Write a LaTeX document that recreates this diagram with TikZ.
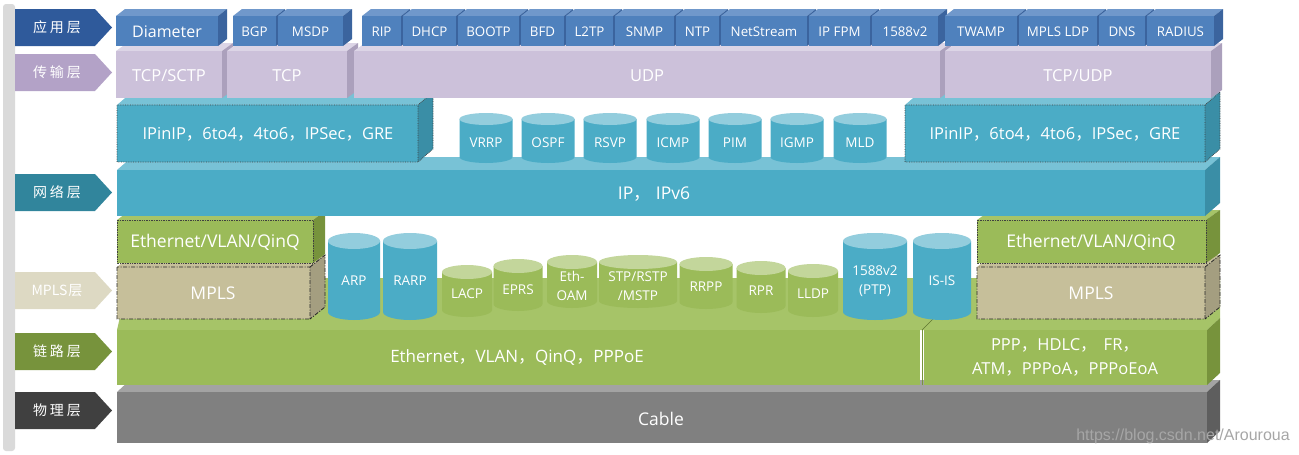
\documentclass[tikz,border=0pt]{standalone}
\usepackage{fontspec}
\setmainfont{Open Sans}
\newfontfamily\cjk{Noto Sans CJK SC}
\newfontfamily\wmfont{Liberation Sans}
\definecolor{appF}{HTML}{4F81BD}
\definecolor{appT}{HTML}{7098CB}
\definecolor{appS}{HTML}{3B649E}
\definecolor{trF}{HTML}{CCC1DA}
\definecolor{trT}{HTML}{DCD5E6}
\definecolor{trS}{HTML}{ABA0BC}
\definecolor{tlF}{HTML}{4BACC6}
\definecolor{tlT}{HTML}{78C2D6}
\definecolor{tlS}{HTML}{3A8EA6}
\definecolor{tlC}{HTML}{93CDDD}
\definecolor{grF}{HTML}{9BBB59}
\definecolor{grT}{HTML}{A6C468}
\definecolor{grS}{HTML}{77933C}
\definecolor{grC}{HTML}{C3D69B}
\definecolor{mpF}{HTML}{C6BF9A}
\definecolor{mpS}{HTML}{A49E80}
\definecolor{gyF}{HTML}{808080}
\definecolor{gyT}{HTML}{A3A3A3}
\definecolor{gyS}{HTML}{5E5E5E}
\definecolor{labApp}{HTML}{2F5A9B}
\definecolor{labTr}{HTML}{B3A2C7}
\definecolor{labNet}{HTML}{31859C}
\definecolor{labMp}{HTML}{DDD9C3}
\definecolor{labLk}{HTML}{77933C}
\definecolor{labPh}{HTML}{404040}
\definecolor{barc}{HTML}{DADADA}
% 3D box: x1 y1 x2 y2 dx dy front top side
\newcommand\tdb[9]{%
  \fill[#8] (#1,#2) -- ({#1+#5},{#2-#6}) -- ({#3+#5},{#2-#6}) -- (#3,#2) -- cycle;
  \fill[#9] (#3,#2) -- ({#3+#5},{#2-#6}) -- ({#3+#5},{#4-#6}) -- (#3,#4) -- cycle;
  \fill[#7] (#1,#2) rectangle (#3,#4);}
\newcommand\appbox[4]{\tdb{#2}{16}{#3}{46}{9}{7}{appF}{appT}{appS}%
  \node[apptxt] (#1) at ({(#2+#3)/2},32) {#4};}
\newcommand\trbox[4]{\tdb{#2}{51}{#3}{98}{11}{8}{trF}{trT}{trS}%
  \node[bigtxt] (#1) at ({(#2+#3)/2},76) {#4};}
% cylinder: name cx ytop ybot rx body top labely text ; ry from \cry
\newcommand\cyl[9]{%
  \fill[#6] ({#2-#5},#3) -- ({#2-#5},#4) arc[start angle=180,end angle=0,x radius=#5,y radius=\cry] -- ({#2+#5},#3) -- cycle;
  \fill[#7] (#2,#3) ellipse[x radius=#5, y radius=\cry];
  \node[cyltxt] (#1) at (#2,#8) {#9};}
\newcommand\tag[4]{% name y1 y2 color
  \fill[#4] (15,#2) -- (95,#2) -- (112,{(#2+#3)/2}) -- (95,#3) -- (15,#3) -- cycle;}
\newcommand\fc{{\cjk ，}}
\def\cry{6}
\begin{document}
\begin{tikzpicture}[x=1pt,y=-1pt,
  apptxt/.style={text=white,font=\fontsize{13.3}{15}\selectfont,inner sep=0pt},
  bigtxt/.style={text=white,font=\fontsize{16.5}{18}\selectfont,inner sep=0pt,align=center},
  lgtxt/.style={text=white,font=\fontsize{17.5}{20}\selectfont,inner sep=0pt,align=center},
  cyltxt/.style={text=white,font=\fontsize{13.5}{19.5}\selectfont,inner sep=0pt,align=center},
  tagtxt/.style={text=white,font=\cjk\fontsize{14}{16}\selectfont,inner sep=0pt},
  dotb/.style={draw=black!75,densely dotted,line width=0.7pt},
  dashdotb/.style={draw=black!85,dash pattern=on 4pt off 1.5pt on 1pt off 1.5pt,line width=0.8pt}]
\useasboundingbox (0,0) rectangle (1299,455);
% left bar
\fill[barc,rounded corners=3pt] (3,4) rectangle (15,451);
% layer tags
\tag{t1}{9}{46}{labApp}
\node[tagtxt] (tapp) at (57,27.5) {应\hspace{3pt}用\hspace{3pt}层};
\tag{t2}{54}{91}{labTr}
\node[tagtxt] (ttr) at (57,72.5) {传\hspace{3pt}输\hspace{3pt}层};
\tag{t3}{174}{211}{labNet}
\node[tagtxt] (tnet) at (57,192.5) {网\hspace{3pt}络\hspace{3pt}层};
\tag{t4}{272}{309}{labMp}
\node[tagtxt] (tmp) at (57,290.5) {\itshape MPLS\hspace{1pt}层};
\tag{t5}{333}{370}{labLk}
\node[tagtxt] (tlk) at (57,351.5) {链\hspace{3pt}路\hspace{3pt}层};
\tag{t6}{392}{429}{labPh}
\node[tagtxt] (tph) at (57,410.5) {物\hspace{3pt}理\hspace{3pt}层};
% physical
\tdb{117}{392}{1207}{443}{13}{12}{gyF}{gyT}{gyS}
\node[lgtxt] (cable) at (661,419) {Cable};
% link layer
\fill[grT] (117,330) -- (129,278) -- (1220,278) -- (1220,318) -- (1207,330) -- cycle;
\fill[grS] (1207,330) -- (1220,318) -- (1220,373) -- (1207,385) -- cycle;
\fill[grF] (117,330) rectangle (920,385);
\fill[grF] (924,330) rectangle (1207,385);
\draw[grS,line width=0.8pt] (922,330) -- (922,385);
\draw[grS!80!black,line width=0.6pt] (922,330) -- (934,318);
\node[lgtxt,font=\fontsize{17}{20}\selectfont] (eth) at (517,357) {Ethernet\fc VLAN\fc QinQ\fc PPPoE};
\node[lgtxt,font=\fontsize{16.5}{24}\selectfont] (ppp) at (1065,357) {PPP\fc HDLC\fc\, FR\fc\\ATM\fc PPPoA\fc PPPoEoA};
% MPLS boxes
\tdb{117}{267}{310}{319}{15}{12}{mpF}{mpF}{mpS}
\draw[dashdotb] (117,267) rectangle (310,319) (310,267) -- (325,255) -- (325,307) -- (310,319);
\node[lgtxt] (mplsl) at (213,293) {MPLS};
\tdb{977}{267}{1205}{319}{15}{12}{mpF}{mpF}{mpS}
\draw[dashdotb] (977,267) rectangle (1205,319) (1205,267) -- (1220,255) -- (1220,307) -- (1205,319);
\node[lgtxt] (mplsr) at (1091,293) {MPLS};
% Ethernet/VLAN/QinQ boxes
\tdb{117}{220}{313}{263}{12}{9}{grF}{grT}{grS}
\draw[dotb] (117,220) rectangle (313,263);
\node[lgtxt] (evql) at (215,242) {Ethernet/VLAN/QinQ};
\tdb{977}{220}{1206}{263}{14}{10}{grF}{grT}{grS}
\draw[dotb] (977,220) rectangle (1206,263);
\node[lgtxt] (evqr) at (1091,242) {Ethernet/VLAN/QinQ};
% link cylinders
\def\cry{8}
\cyl{arp}{354}{241}{312}{26}{tlF}{tlC}{281}{ARP}
\cyl{rarp}{410}{241}{312}{27}{tlF}{tlC}{281}{RARP}
\cyl{ptp}{875}{241}{312}{32}{tlF}{tlC}{281}{1588v2\\(PTP)}
\cyl{isis}{942}{241}{312}{29}{tlF}{tlC}{281}{IS-IS}
\def\cry{7}
\cyl{lacp}{467}{272}{310}{25}{grF}{grC}{294}{LACP}
\cyl{eprs}{518}{266}{304}{24.5}{grF}{grC}{290}{EPRS}
\cyl{ethoam}{572}{262}{301}{25}{grF}{grC}{286}{Eth-\\OAM}
\cyl{stp}{638}{262}{301}{39}{grF}{grC}{286}{STP/RSTP\\/MSTP}
\cyl{rrpp}{706}{264}{302}{26.5}{grF}{grC}{287}{RRPP}
\cyl{rpr}{761}{268}{306}{24.5}{grF}{grC}{291}{RPR}
\cyl{lldp}{813}{271}{310}{25}{grF}{grC}{294}{LLDP}
% network layer
\tdb{117}{170}{1205}{216}{15}{13}{tlF}{tlT}{tlS}
\node[lgtxt] (ip) at (654,194) {IP\fc\hspace{5pt}IPv6};
\tdb{117}{105}{418}{162}{15}{13}{tlF}{tlT}{tlS}
\draw[dotb] (117,105) rectangle (418,162) (418,105) -- (433,92) -- (433,149) -- (418,162);
\node[bigtxt] (tunl) at (268,134) {IPinIP\fc 6to4\fc 4to6\fc IPSec\fc GRE};
\tdb{905}{105}{1205}{162}{15}{13}{tlF}{tlT}{tlS}
\draw[dotb] (905,105) rectangle (1205,162) (1205,105) -- (1220,92) -- (1220,149) -- (1205,162);
\node[bigtxt] (tunr) at (1055,134) {IPinIP\fc 6to4\fc 4to6\fc IPSec\fc GRE};
\def\cry{6}
\cyl{vrrp}{486}{119}{157}{26.5}{tlF}{tlC}{143}{VRRP}
\cyl{ospf}{548}{119}{157}{26.5}{tlF}{tlC}{143}{OSPF}
\cyl{rsvp}{610}{119}{157}{26.5}{tlF}{tlC}{143}{RSVP}
\cyl{icmp}{673}{119}{157}{26.5}{tlF}{tlC}{143}{ICMP}
\cyl{pim}{735}{119}{157}{26.5}{tlF}{tlC}{143}{PIM}
\cyl{igmp}{797}{119}{157}{26.5}{tlF}{tlC}{143}{IGMP}
\cyl{mld}{860}{119}{157}{26.5}{tlF}{tlC}{143}{MLD}
% transport layer
\trbox{tcpsctp}{116}{222}{TCP/SCTP}
\trbox{tcp}{227}{347}{TCP}
\trbox{udp}{354}{940}{UDP}
\trbox{tcpudp}{945}{1211}{TCP/UDP}
% application layer
\tdb{116}{16}{218}{46}{9}{7}{appF}{appT}{appS}
\node[apptxt,font=\fontsize{16}{18}\selectfont] (diam) at (167,32) {Diameter};
\appbox{bgp}{233}{276}{BGP}
\appbox{msdp}{278}{343}{MSDP}
\appbox{rip}{362}{401}{RIP}
\appbox{dhcp}{403}{456}{DHCP}
\appbox{bootp}{458}{519}{BOOTP}
\appbox{bfd}{521}{564}{BFD}
\appbox{l2tp}{566}{613}{L2TP}
\appbox{snmp}{615}{674}{SNMP}
\appbox{ntp}{676}{719}{NTP}
\appbox{netstream}{721}{807}{NetStream}
\appbox{ipfpm}{809}{870}{IP FPM}
\appbox{ptpapp}{872}{938}{1588v2}
\appbox{twamp}{945}{1017}{TWAMP}
\appbox{mplsldp}{1019}{1097}{MPLS LDP}
\appbox{dns}{1099}{1145}{DNS}
\appbox{radius}{1147}{1214}{RADIUS}
% watermark
\node[text=black!35,font=\wmfont\fontsize{16}{18}\selectfont,inner sep=0pt] (wm) at (1183,436) {https://blog.csdn.net/Arouroua};
\end{tikzpicture}
\end{document}
